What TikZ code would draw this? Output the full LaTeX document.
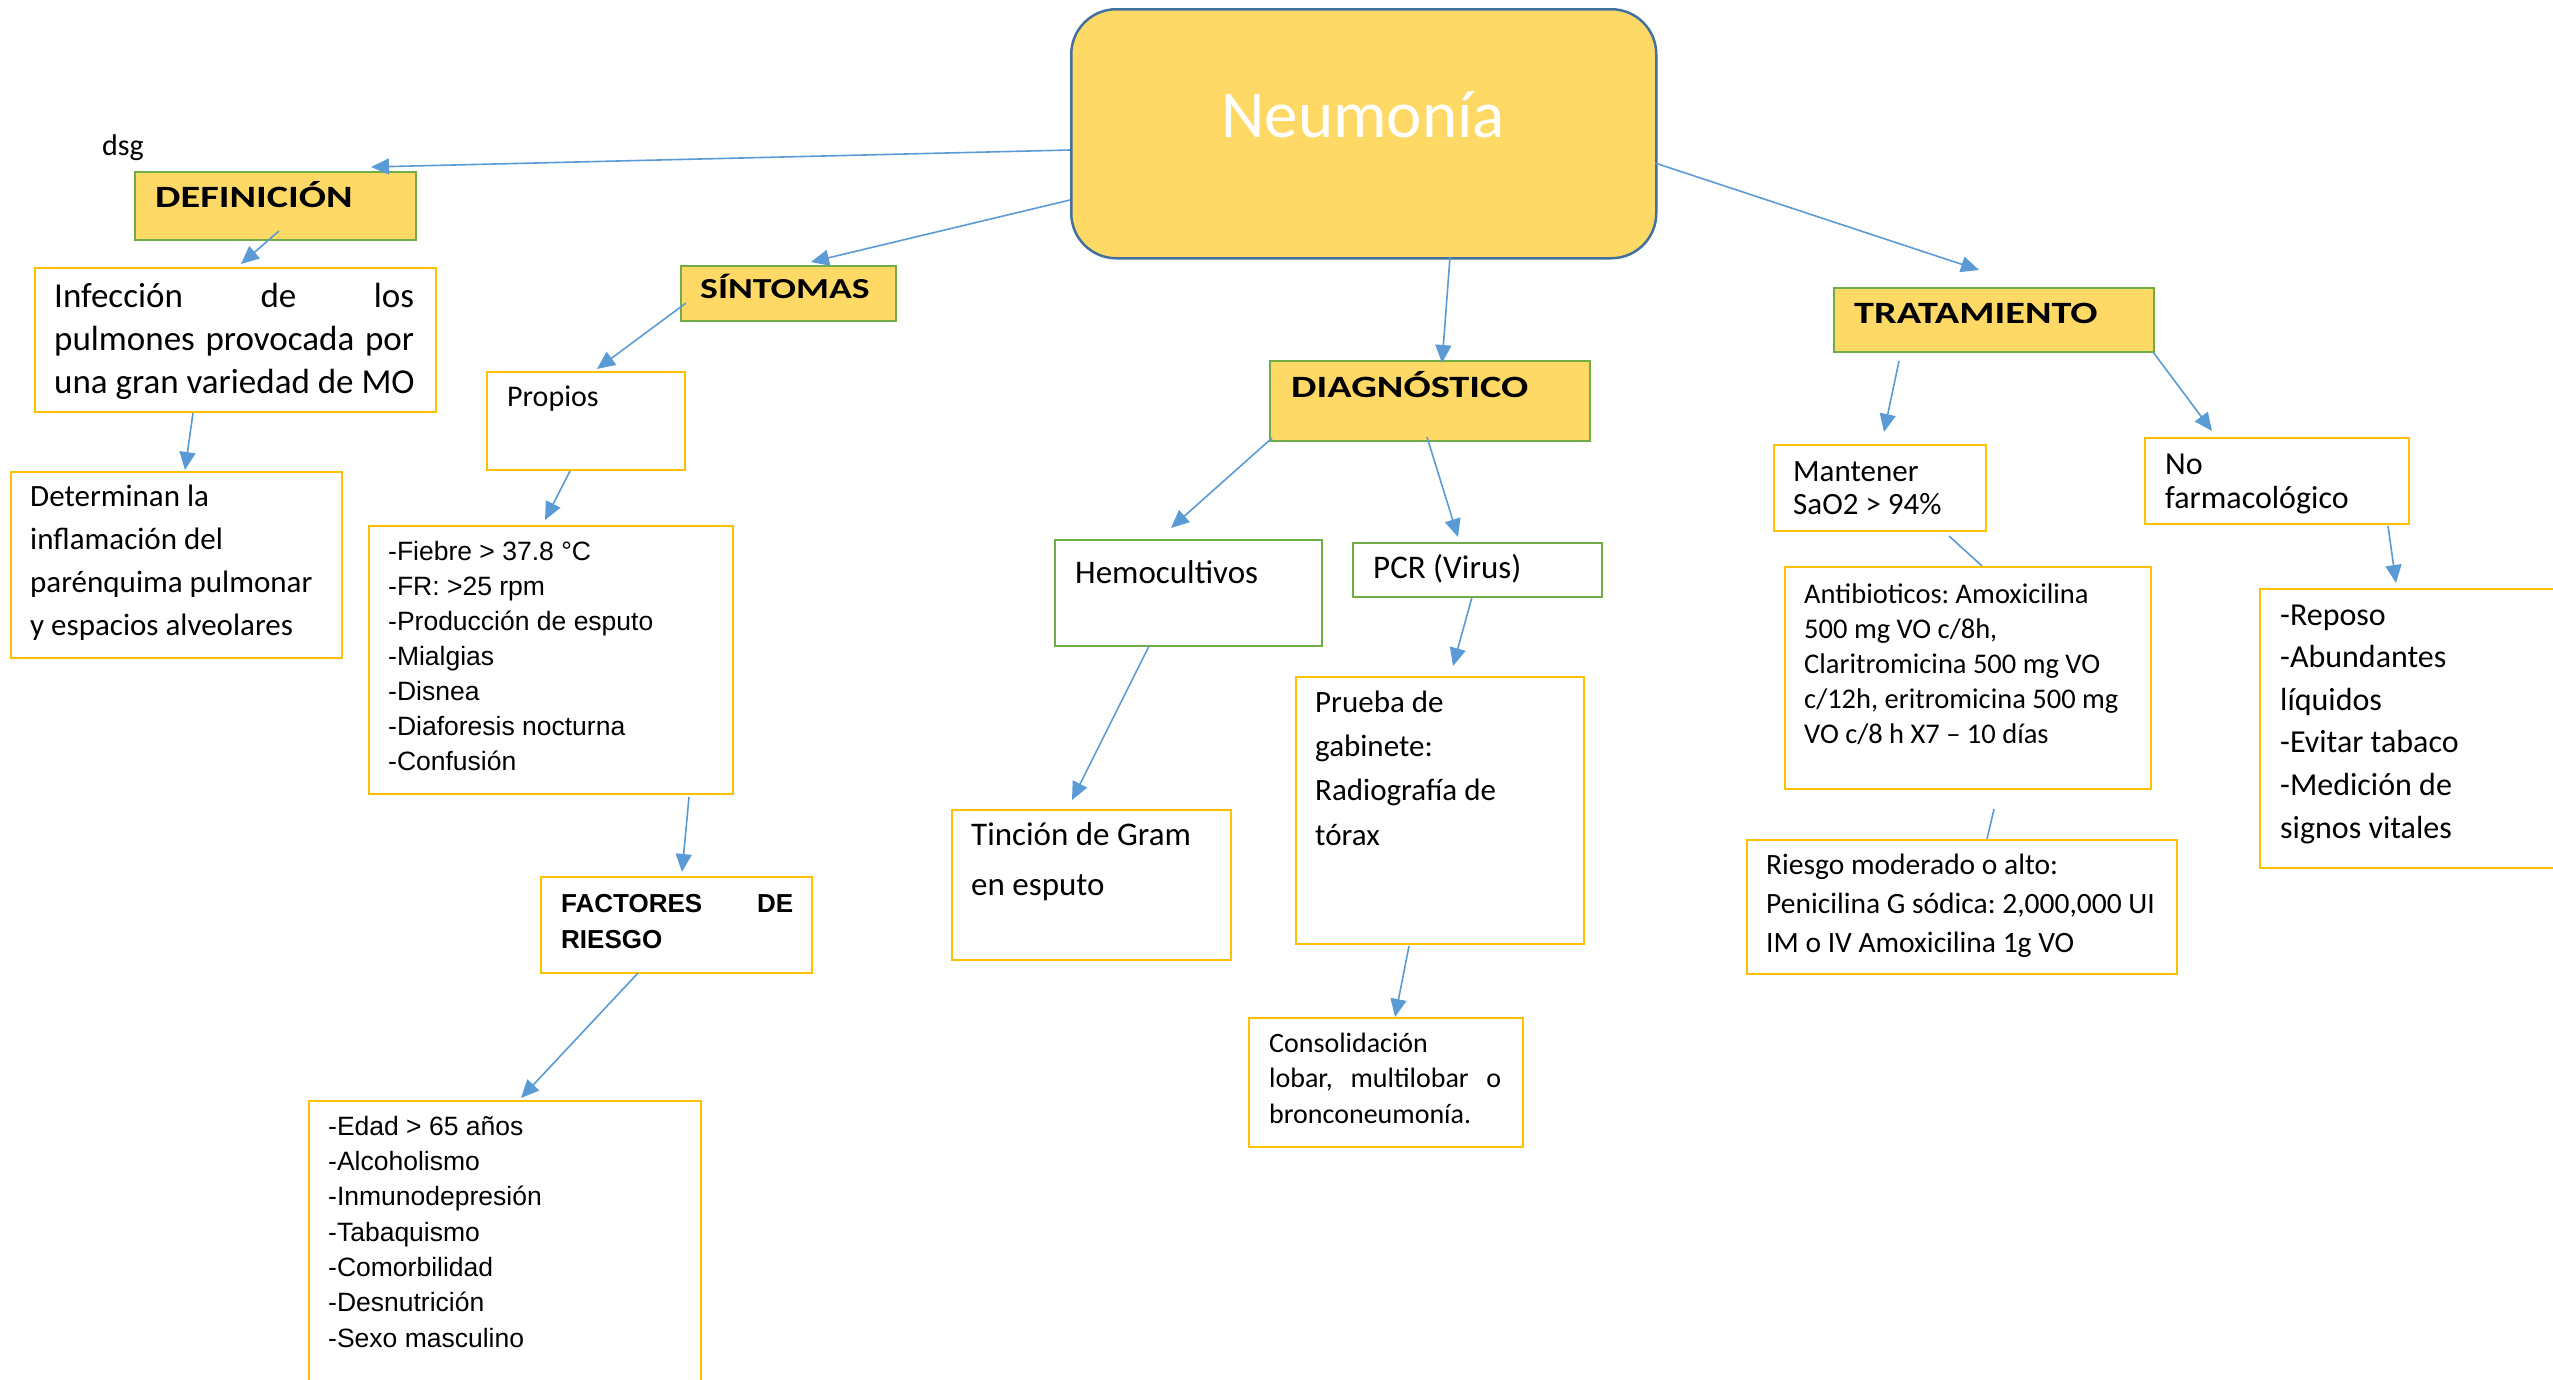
\documentclass[tikz,border=0pt]{standalone}
\usepackage{fontspec}
\setmainfont{Carlito}
\newfontfamily\arialf{Liberation Sans}
\newfontfamily\headf[FakeStretch=1.3]{Carlito}
\usetikzlibrary{arrows.meta,calc}
\definecolor{yfill}{HTML}{FFD966}
\definecolor{gbord}{HTML}{70AD47}
\definecolor{obord}{HTML}{FFC000}
\definecolor{conc}{HTML}{5B9BD5}
\definecolor{nbord}{HTML}{41719C}
\frenchspacing
\tikzset{
  hbox/.style={draw=gbord, fill=yfill, line width=1.5pt, inner sep=0pt, anchor=north west},
  obox/.style={draw=obord, fill=white, line width=1.5pt, inner sep=0pt, anchor=north west},
  gbox/.style={draw=gbord, fill=white, line width=1.5pt, inner sep=0pt, anchor=north west},
  conn/.style={draw=conc, line width=1.6pt, -{Triangle[length=18pt,width=16pt]}},
  plainconn/.style={draw=conc, line width=1.6pt},
  txt/.style={anchor=base west, inner sep=0pt, align=left},
  headtxt/.style={txt, font=\headf\bfseries\fontsize{#1}{36}\selectfont},
}
\begin{document}
\begin{tikzpicture}[x=1pt,y=-1pt]
\useasboundingbox (0,0) rectangle (2553,1379);
\clip (0,0) rectangle (2553,1379);
\fill[white] (0,0) rectangle (2553,1379);

% ---------- boxes ----------
\node[draw=nbord, fill=yfill, line width=2.5pt, rounded corners=45pt, inner sep=0pt, anchor=north west,
      minimum width=585pt, minimum height=249pt] (neu) at (1070,8) {};
\node[hbox, minimum width=281pt, minimum height=68pt] (def) at (134,171) {};
\node[obox, minimum width=401pt, minimum height=144pt] (inf) at (34,267) {};
\node[obox, minimum width=331pt, minimum height=186pt] (det) at (10,471) {};
\node[hbox, minimum width=215pt, minimum height=55pt] (sin) at (680,265) {};
\node[obox, minimum width=198pt, minimum height=98pt] (pro) at (486,371) {};
\node[obox, minimum width=364pt, minimum height=268pt] (fie) at (368,525) {};
\node[obox, minimum width=271pt, minimum height=96pt] (fac) at (540,876) {};
\node[obox, minimum width=392pt, minimum height=320pt] (eda) at (308,1100) {};
\node[hbox, minimum width=320pt, minimum height=80pt] (dia) at (1269,360) {};
\node[gbox, minimum width=267pt, minimum height=106pt] (hem) at (1054,539) {};
\node[gbox, minimum width=249pt, minimum height=54pt] (pcr) at (1352,542) {};
\node[obox, minimum width=288pt, minimum height=267pt] (pru) at (1295,676) {};
\node[obox, minimum width=279pt, minimum height=150pt] (tin) at (951,809) {};
\node[obox, minimum width=274pt, minimum height=129pt] (con) at (1248,1017) {};
\node[hbox, minimum width=320pt, minimum height=64pt] (tra) at (1833,287) {};
\node[obox, minimum width=212pt, minimum height=86pt] (man) at (1773,444) {};
\node[obox, minimum width=366pt, minimum height=222pt] (ant) at (1784,566) {};
\node[obox, minimum width=430pt, minimum height=134pt] (rie) at (1746,839) {};
\node[obox, minimum width=264pt, minimum height=86pt] (nof) at (2144,437) {};
\node[obox, minimum width=340pt, minimum height=279pt] (rep) at (2259,588) {};

% ---------- texts (anchor = baseline of the last line) ----------
\node[txt, font=\fontsize{30}{36}\selectfont] (dsgt) at (102,155) {dsg};
\node[font=\fontsize{67}{80}\selectfont, text=white, anchor=base, inner sep=0pt] (neut) at (1363,137) {Neumonía};
\node[headtxt=31] (deft) at (155,207) {DEFINICIÓN};
\node[headtxt=29] (sint) at (700,298) {SÍNTOMAS};
\node[headtxt=31] (diat) at (1291,397) {DIAGNÓSTICO};
\node[headtxt=31] (trat) at (1854,323) {TRATAMIENTO};

\node[txt, font=\fontsize{35}{43}\selectfont] (inft) at (54,393)
  {\makebox[360pt][l]{Infección\hfill de\hfill los}\\
   \makebox[360pt][l]{pulmones\hfill provocada\hfill por}\\
   una gran variedad de MO};
\node[txt, font=\fontsize{31}{42.7}\selectfont] (dett) at (30,635)
  {Determinan la\\inflamación del\\parénquima pulmonar\\y espacios alveolares};
\node[txt, font=\fontsize{30}{36}\selectfont] (prot) at (507,406) {Propios};
\node[txt, font=\arialf\fontsize{26.5}{35}\selectfont] (fiet) at (388,770)
  {-Fiebre > 37.8 °C\\-FR: >25 rpm\\-Producción de esputo\\-Mialgias\\-Disnea\\-Diaforesis nocturna\\-Confusión};
\node[txt, font=\arialf\bfseries\fontsize{26}{36}\selectfont] (fact) at (561,948)
  {\makebox[232pt][l]{FACTORES\hfill DE}\\RIESGO};
\node[txt, font=\arialf\fontsize{26.5}{35.3}\selectfont] (edat) at (328,1347)
  {-Edad > 65 años\\-Alcoholismo\\-Inmunodepresión\\-Tabaquismo\\-Comorbilidad\\-Desnutrición\\-Sexo masculino};

\node[txt, font=\fontsize{33}{40}\selectfont] (hemt) at (1075,583) {Hemocultivos};
\node[txt, font=\fontsize{33}{40}\selectfont] (pcrt) at (1373,578) {PCR (Virus)};
\node[txt, font=\fontsize{31}{44.3}\selectfont] (prut) at (1315,845)
  {Prueba de\\gabinete:\\Radiografía de\\tórax};
\node[txt, font=\fontsize{33}{50}\selectfont] (tint) at (971,895) {Tinción de Gram\\en esputo};
\node[txt, font=\fontsize{28}{35.5}\selectfont] (cont) at (1269,1123)
  {Consolidación\\\makebox[232pt][l]{lobar,\hfill multilobar\hfill o}\\bronconeumonía.};

\node[txt, font=\fontsize{31}{33}\selectfont] (mant) at (1793,514) {Mantener\\SaO2 > 94\%};
\node[txt, font=\fontsize{28.5}{35}\selectfont] (antt) at (1804,743)
  {Antibioticos: Amoxicilina\\500 mg VO c/8h,\\Claritromicina 500 mg VO\\c/12h, eritromicina 500 mg\\VO c/8 h X7 – 10 días};
\node[txt, font=\fontsize{29.5}{39}\selectfont] (riet) at (1766,952)
  {Riesgo moderado o alto:\\Penicilina G sódica: 2,000,000 UI\\IM o IV Amoxicilina 1g VO};
\node[txt, font=\fontsize{32}{34}\selectfont] (noft) at (2165,508) {No\\farmacológico};
\node[txt, font=\fontsize{32}{42.6}\selectfont] (rept) at (2280,838)
  {-Reposo\\-Abundantes\\líquidos\\-Evitar tabaco\\-Medición de\\signos vitales};

% ---------- connectors ----------
\draw[conn] ($(neu.north west)+(0,142)$) -- ($(def.north west)+(237,-4)$);
\draw[conn] ($(neu.north west)+(0,192)$) -- ($(sin.north west)+(131,-3)$);
\draw[conn] ($(neu.north west)+(380,249)$) -- ($(dia.north west)+(173,3)$);
\draw[conn] ($(neu.north west)+(585,155)$) -- ($(tra.north west)+(146,-17)$);
\draw[conn] ($(def.north west)+(145,60)$) -- ($(inf.north west)+(207,-3)$);
\draw[conn] ($(inf.north west)+(159,146)$) -- ($(det.north west)+(175,-1)$);
\draw[conn] ($(sin.north west)+(6,38)$) -- ($(pro.north west)+(111,-2)$);
\draw[conn] ($(pro.north west)+(84,100)$) -- ($(fie.north west)+(177,-5)$);
\draw[conn] ($(fie.north west)+(321,272)$) -- ($(fac.north west)+(142,-4)$);
\draw[conn] ($(fac.north west)+(98,97)$) -- ($(eda.north west)+(213,-2)$);
\draw[conn] ($(dia.north west)+(3,78)$) -- ($(hem.north west)+(117,-11)$);
\draw[conn] ($(dia.north west)+(158,77)$) -- ($(pcr.north west)+(106,-5)$);
\draw[conn] ($(hem.north west)+(95,107)$) -- ($(tin.north west)+(121,-9)$);
\draw[conn] ($(pcr.north west)+(120,55)$) -- ($(pru.north west)+(158,-10)$);
\draw[conn] ($(pru.north west)+(114,270)$) -- ($(con.north west)+(147,0)$);
\draw[conn] ($(tra.north west)+(66,74)$) -- ($(man.north west)+(111,-12)$);
\draw[conn] ($(tra.north west)+(320,65)$) -- ($(nof.north west)+(68,-6)$);
\draw[plainconn] ($(man.north west)+(176,92)$) -- ($(ant.north west)+(198,0)$);
\draw[plainconn] ($(ant.north west)+(210,243)$) -- ($(rie.north west)+(241,0)$);
\draw[conn] ($(nof.north west)+(244,89)$) -- ($(rep.north west)+(137,-5)$);
\end{tikzpicture}
\end{document}
